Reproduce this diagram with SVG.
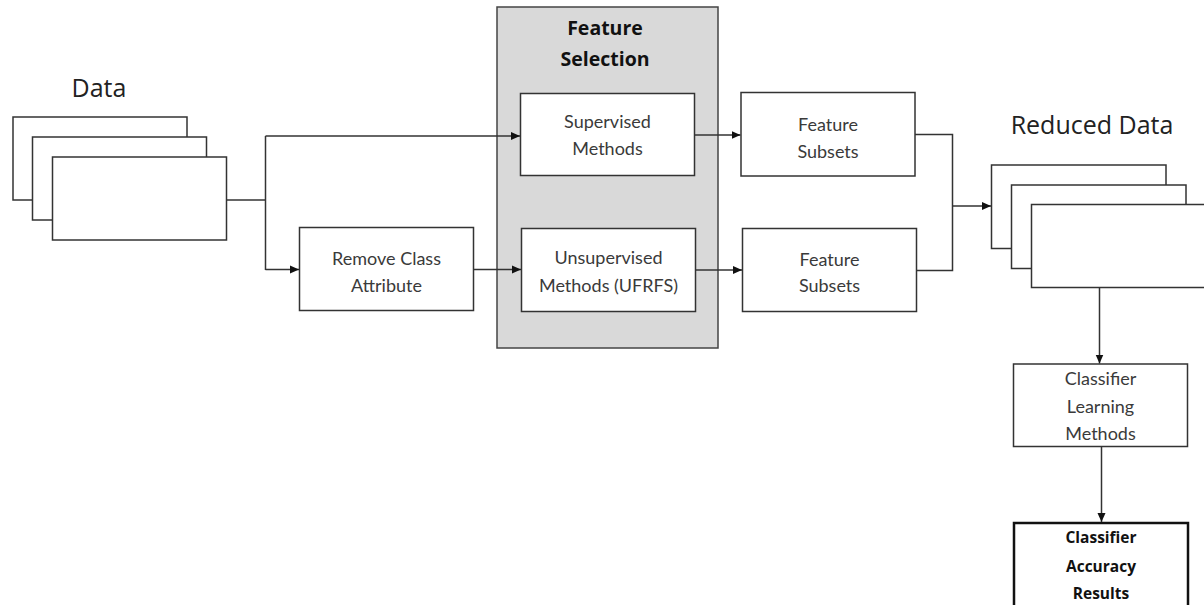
<svg xmlns="http://www.w3.org/2000/svg" width="1204" height="605" viewBox="0 0 1204 605">
<style>
.box{fill:#fff;stroke:#333;stroke-width:1.5}
.bold{fill:#fff;stroke:#111;stroke-width:2.5}
.grp{fill:#d9d9d9;stroke:#444;stroke-width:1.5}
.t{font-family:Lato,"Open Sans",sans-serif;font-size:18px;fill:#3a3a3a;text-anchor:middle;dominant-baseline:central}
.tb{font-family:"Open Sans",Lato,sans-serif;font-size:15.5px;font-weight:bold;fill:#111;text-anchor:middle;dominant-baseline:central}
.h{font-family:"Open Sans",Lato,sans-serif;font-size:19.5px;font-weight:bold;fill:#111;text-anchor:middle;dominant-baseline:central}
.big{font-family:"Open Sans",Lato,sans-serif;font-size:25px;fill:#222;text-anchor:middle;dominant-baseline:central}
.c{fill:none;stroke:#333;stroke-width:1.5}
</style>
<defs>
<marker id="a" markerUnits="userSpaceOnUse" markerWidth="10" markerHeight="10" refX="9" refY="5" orient="auto">
<path d="M0,1 L9,5 L0,9 Z" fill="#111"/>
</marker>
</defs>
<rect width="1204" height="605" fill="#fff"/>

<g id="data">
<text class="big" x="99" y="87">Data</text>
<rect class="box" x="13" y="117" width="174" height="83"/>
<rect class="box" x="32.5" y="137" width="174" height="83"/>
<rect class="box" x="52.5" y="157" width="174" height="83"/>
</g>

<g id="feature-selection">
<rect class="grp" x="497" y="7" width="221" height="341"/>
<text class="h" x="605" y="27">Feature</text>
<text class="h" x="605" y="58">Selection</text>
</g>

<g id="supervised">
<rect class="box" x="520.5" y="93.5" width="174" height="82"/>
<text class="t" x="607.5" y="121">Supervised</text>
<text class="t" x="607.5" y="148">Methods</text>
</g>

<g id="remove-class">
<rect class="box" x="299.5" y="227.5" width="174" height="83"/>
<text class="t" x="386.5" y="258">Remove Class</text>
<text class="t" x="386.5" y="285">Attribute</text>
</g>

<g id="unsupervised">
<rect class="box" x="521.5" y="228.5" width="174" height="83"/>
<text class="t" x="608.5" y="257">Unsupervised</text>
<text class="t" x="608.5" y="285">Methods (UFRFS)</text>
</g>

<g id="subsets1">
<rect class="box" x="741" y="92.5" width="174" height="83.5"/>
<text class="t" x="828" y="124">Feature</text>
<text class="t" x="828" y="151">Subsets</text>
</g>

<g id="subsets2">
<rect class="box" x="742.5" y="228.5" width="174" height="83"/>
<text class="t" x="829.5" y="259">Feature</text>
<text class="t" x="829.5" y="285">Subsets</text>
</g>

<g id="reduced-data">
<text class="big" x="1092" y="124">Reduced Data</text>
<rect class="box" x="991.5" y="165" width="174.5" height="83.5"/>
<rect class="box" x="1011.5" y="185" width="174.5" height="83.5"/>
<rect class="box" x="1031.5" y="204.5" width="174" height="83"/>
</g>

<g id="classifier-learning">
<rect class="box" x="1013.5" y="364" width="174" height="82.5"/>
<text class="t" x="1100.5" y="378">Classifier</text>
<text class="t" x="1100.5" y="406">Learning</text>
<text class="t" x="1100.5" y="433">Methods</text>
</g>

<g id="accuracy">
<rect class="bold" x="1014" y="523" width="174" height="85"/>
<text class="tb" x="1101" y="537">Classifier</text>
<text class="tb" x="1101" y="565.5">Accuracy</text>
<text class="tb" x="1101" y="592.5">Results</text>
</g>

<g id="connectors">
<path class="c" d="M226.5,200 H265.5"/>
<path class="c" d="M265.5,136 V270"/>
<path class="c" d="M265.5,136 H520" marker-end="url(#a)"/>
<path class="c" d="M265.5,269.5 H299" marker-end="url(#a)"/>
<path class="c" d="M473.5,269.5 H521" marker-end="url(#a)"/>
<path class="c" d="M694.5,135 H740.5" marker-end="url(#a)"/>
<path class="c" d="M695.5,270 H742" marker-end="url(#a)"/>
<path class="c" d="M915,134.5 H952.5 V270.5 H916.5"/>
<path class="c" d="M952.5,206 H991" marker-end="url(#a)"/>
<path class="c" d="M1099.5,287.5 V363.5" marker-end="url(#a)"/>
<path class="c" d="M1101.5,446.5 V522" marker-end="url(#a)"/>
</g>
</svg>
